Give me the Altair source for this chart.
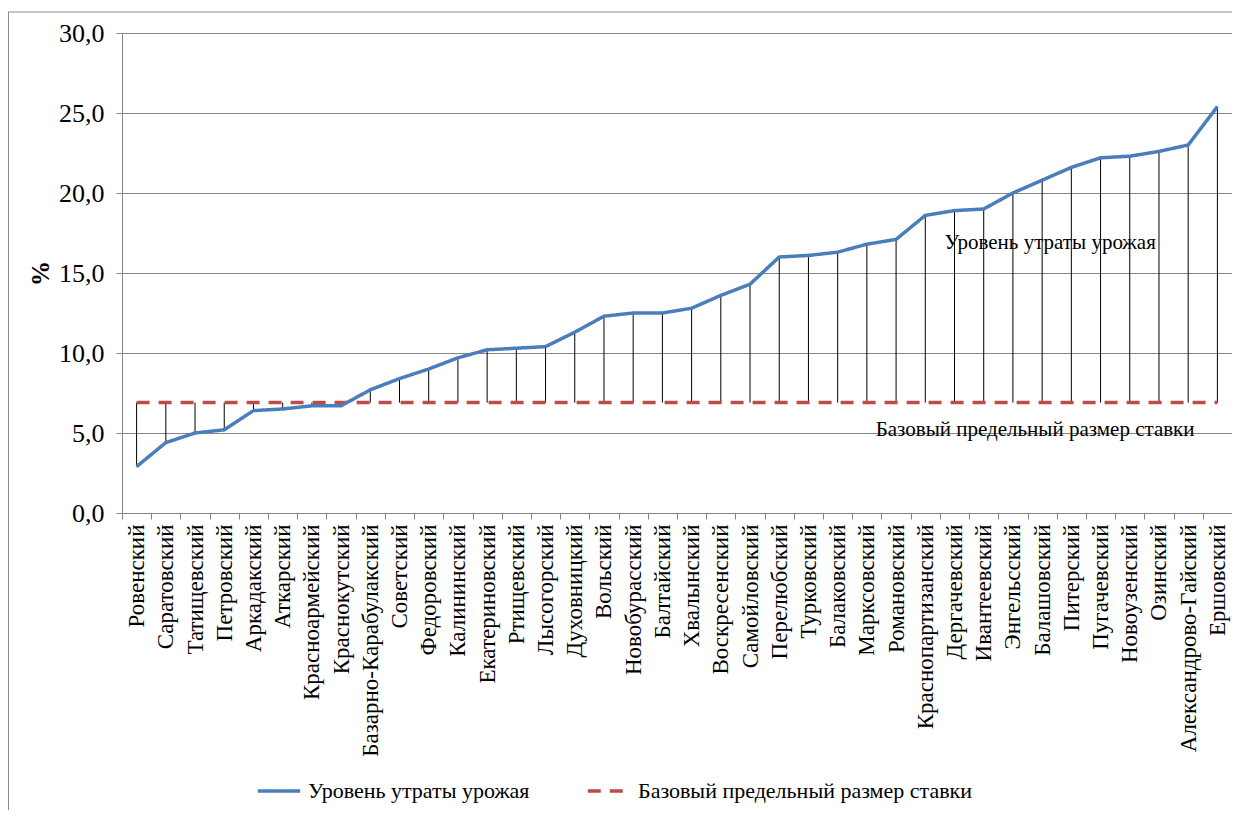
import altair as alt
import pandas as pd

categories = [
    "Ровенский", "Саратовский", "Татищевский", "Петровский", "Аркадакский",
    "Аткарский", "Красноармейский", "Краснокутский", "Базарно-Карабулакский",
    "Советский", "Федоровский", "Калининский", "Екатериновский", "Ртищевский",
    "Лысогорский", "Духовницкий", "Вольский", "Новобурасский", "Балтайский",
    "Хвалынский", "Воскресенский", "Самойловский", "Перелюбский", "Турковский",
    "Балаковский", "Марксовский", "Романовский", "Краснопартизанский",
    "Дергачевский", "Ивантеевский", "Энгельсский", "Балашовский", "Питерский",
    "Пугачевский", "Новоузенский", "Озинский", "Александрово-Гайский", "Ершовский",
]
loss = [
    2.9, 4.4, 5.0, 5.2, 6.4, 6.5, 6.7, 6.7, 7.7, 8.4,
    9.0, 9.7, 10.2, 10.3, 10.4, 11.3, 12.3, 12.5, 12.5, 12.8,
    13.6, 14.3, 16.0, 16.1, 16.3, 16.8, 17.1, 18.6, 18.9, 19.0,
    20.0, 20.8, 21.6, 22.2, 22.3, 22.6, 23.0, 25.4,
]
BASE_LEVEL = 6.9
series_names = ["Уровень утраты урожая", "Базовый предельный размер ставки"]
series_colors = ["#4A7EBB", "#BE4B48"]
annot_text = ["Уровень утраты урожая", "Базовый предельный размер ставки"]
annot_cat = ["Балашовский", "Балашовский"]
annot_val = [16.9, 5.2]
annot_dx = [8, -7]
y_ticks = [0, 5, 10, 15, 20, 25, 30]

base = [BASE_LEVEL] * len(categories)
wide = pd.DataFrame({"cat": categories, "loss": loss, "base": base})
long = pd.concat([
    pd.DataFrame({"cat": categories, "value": base, "series": series_names[1]}),
    pd.DataFrame({"cat": categories, "value": loss, "series": series_names[0]}),
], ignore_index=True)
annots = pd.DataFrame({"text": annot_text, "cat": annot_cat, "value": annot_val})

FONT = "Liberation Serif"
GRID = "#868686"

xscale = alt.Scale(type="band", domain=categories, paddingInner=0, paddingOuter=0)
yscale = alt.Scale(domain=[0, 30], nice=False, zero=True)

x_axis = alt.Axis(
    title=None, labelAngle=270, tickBand="extent", grid=False,
    labelFont=FONT, labelFontSize=23, labelColor="black", labelPadding=5,
    domainColor=GRID, tickColor=GRID, tickSize=6, labelLimit=400,
)
y_axis = alt.Axis(
    title="%", titleFont=FONT, titleFontSize=25, titleFontWeight="bold",
    titleColor="black", titleAngle=270, titlePadding=5,
    values=y_ticks, labelExpr="replace(format(datum.value, '.1f'), '.', ',')",
    labelFont=FONT, labelFontSize=26, labelColor="black", labelPadding=12,
    grid=True, gridColor=GRID, gridWidth=1, domainColor=GRID, tickColor=GRID, tickSize=6,
)

X = alt.X("cat:N", scale=xscale, axis=x_axis, sort=categories)

frame_data = pd.DataFrame({"a": [0]})
frame_top = alt.Chart(frame_data).mark_rule(color="#8C8C8C", strokeWidth=1).encode(
    x=alt.value(-114), x2=alt.value(1110), y=alt.value(-21)
)
frame_left = alt.Chart(frame_data).mark_rule(color="#8C8C8C", strokeWidth=1).encode(
    x=alt.value(-113.5), y=alt.value(-21), y2=alt.value(777)
)

drops = alt.Chart(wide).mark_rule(color="black", strokeWidth=1).encode(
    x=X,
    y=alt.Y("loss:Q", scale=yscale, axis=y_axis),
    y2="base:Q",
)

lines = alt.Chart(long).mark_line(strokeWidth=3.5, strokeCap="butt").encode(
    x=X,
    y=alt.Y("value:Q", scale=yscale, axis=y_axis),
    color=alt.Color("series:N", scale=alt.Scale(domain=series_names, range=series_colors),
                    legend=alt.Legend(title=None)),
    strokeDash=alt.StrokeDash("series:N", scale=alt.Scale(domain=series_names, range=[[1, 0], [13, 9]]),
                              legend=alt.Legend(title=None)),
    detail="series:N",
)

texts1 = alt.Chart(annots.iloc[[0]]).mark_text(font=FONT, fontSize=21, color="black", align="center",
                                                baseline="middle", dx=annot_dx[0]).encode(
    x=X,
    y=alt.Y("value:Q", scale=yscale, axis=y_axis),
    text="text:N",
)
texts2 = alt.Chart(annots.iloc[[1]]).mark_text(font=FONT, fontSize=21, color="black", align="center",
                                                baseline="middle", dx=annot_dx[1]).encode(
    x=X,
    y=alt.Y("value:Q", scale=yscale, axis=y_axis),
    text="text:N",
)

chart = alt.layer(frame_top, frame_left, drops, lines, texts1, texts2).properties(
    width=1110, height=480,
    autosize=alt.AutoSizeParams(type="none"),
    padding={"left": 114, "top": 25, "right": 0, "bottom": 297},
).configure_view(stroke=None).configure_legend(
    orient="none", legendX=134, legendY=735, direction="horizontal",
    labelFont=FONT, labelFontSize=22, labelColor="black",
    symbolType="stroke", symbolSize=1800, symbolStrokeWidth=3.5,
    columnPadding=50, labelOffset=6, labelLimit=500,
)

chart.save("out.html", embed_options={"renderer": "svg", "actions": False})
